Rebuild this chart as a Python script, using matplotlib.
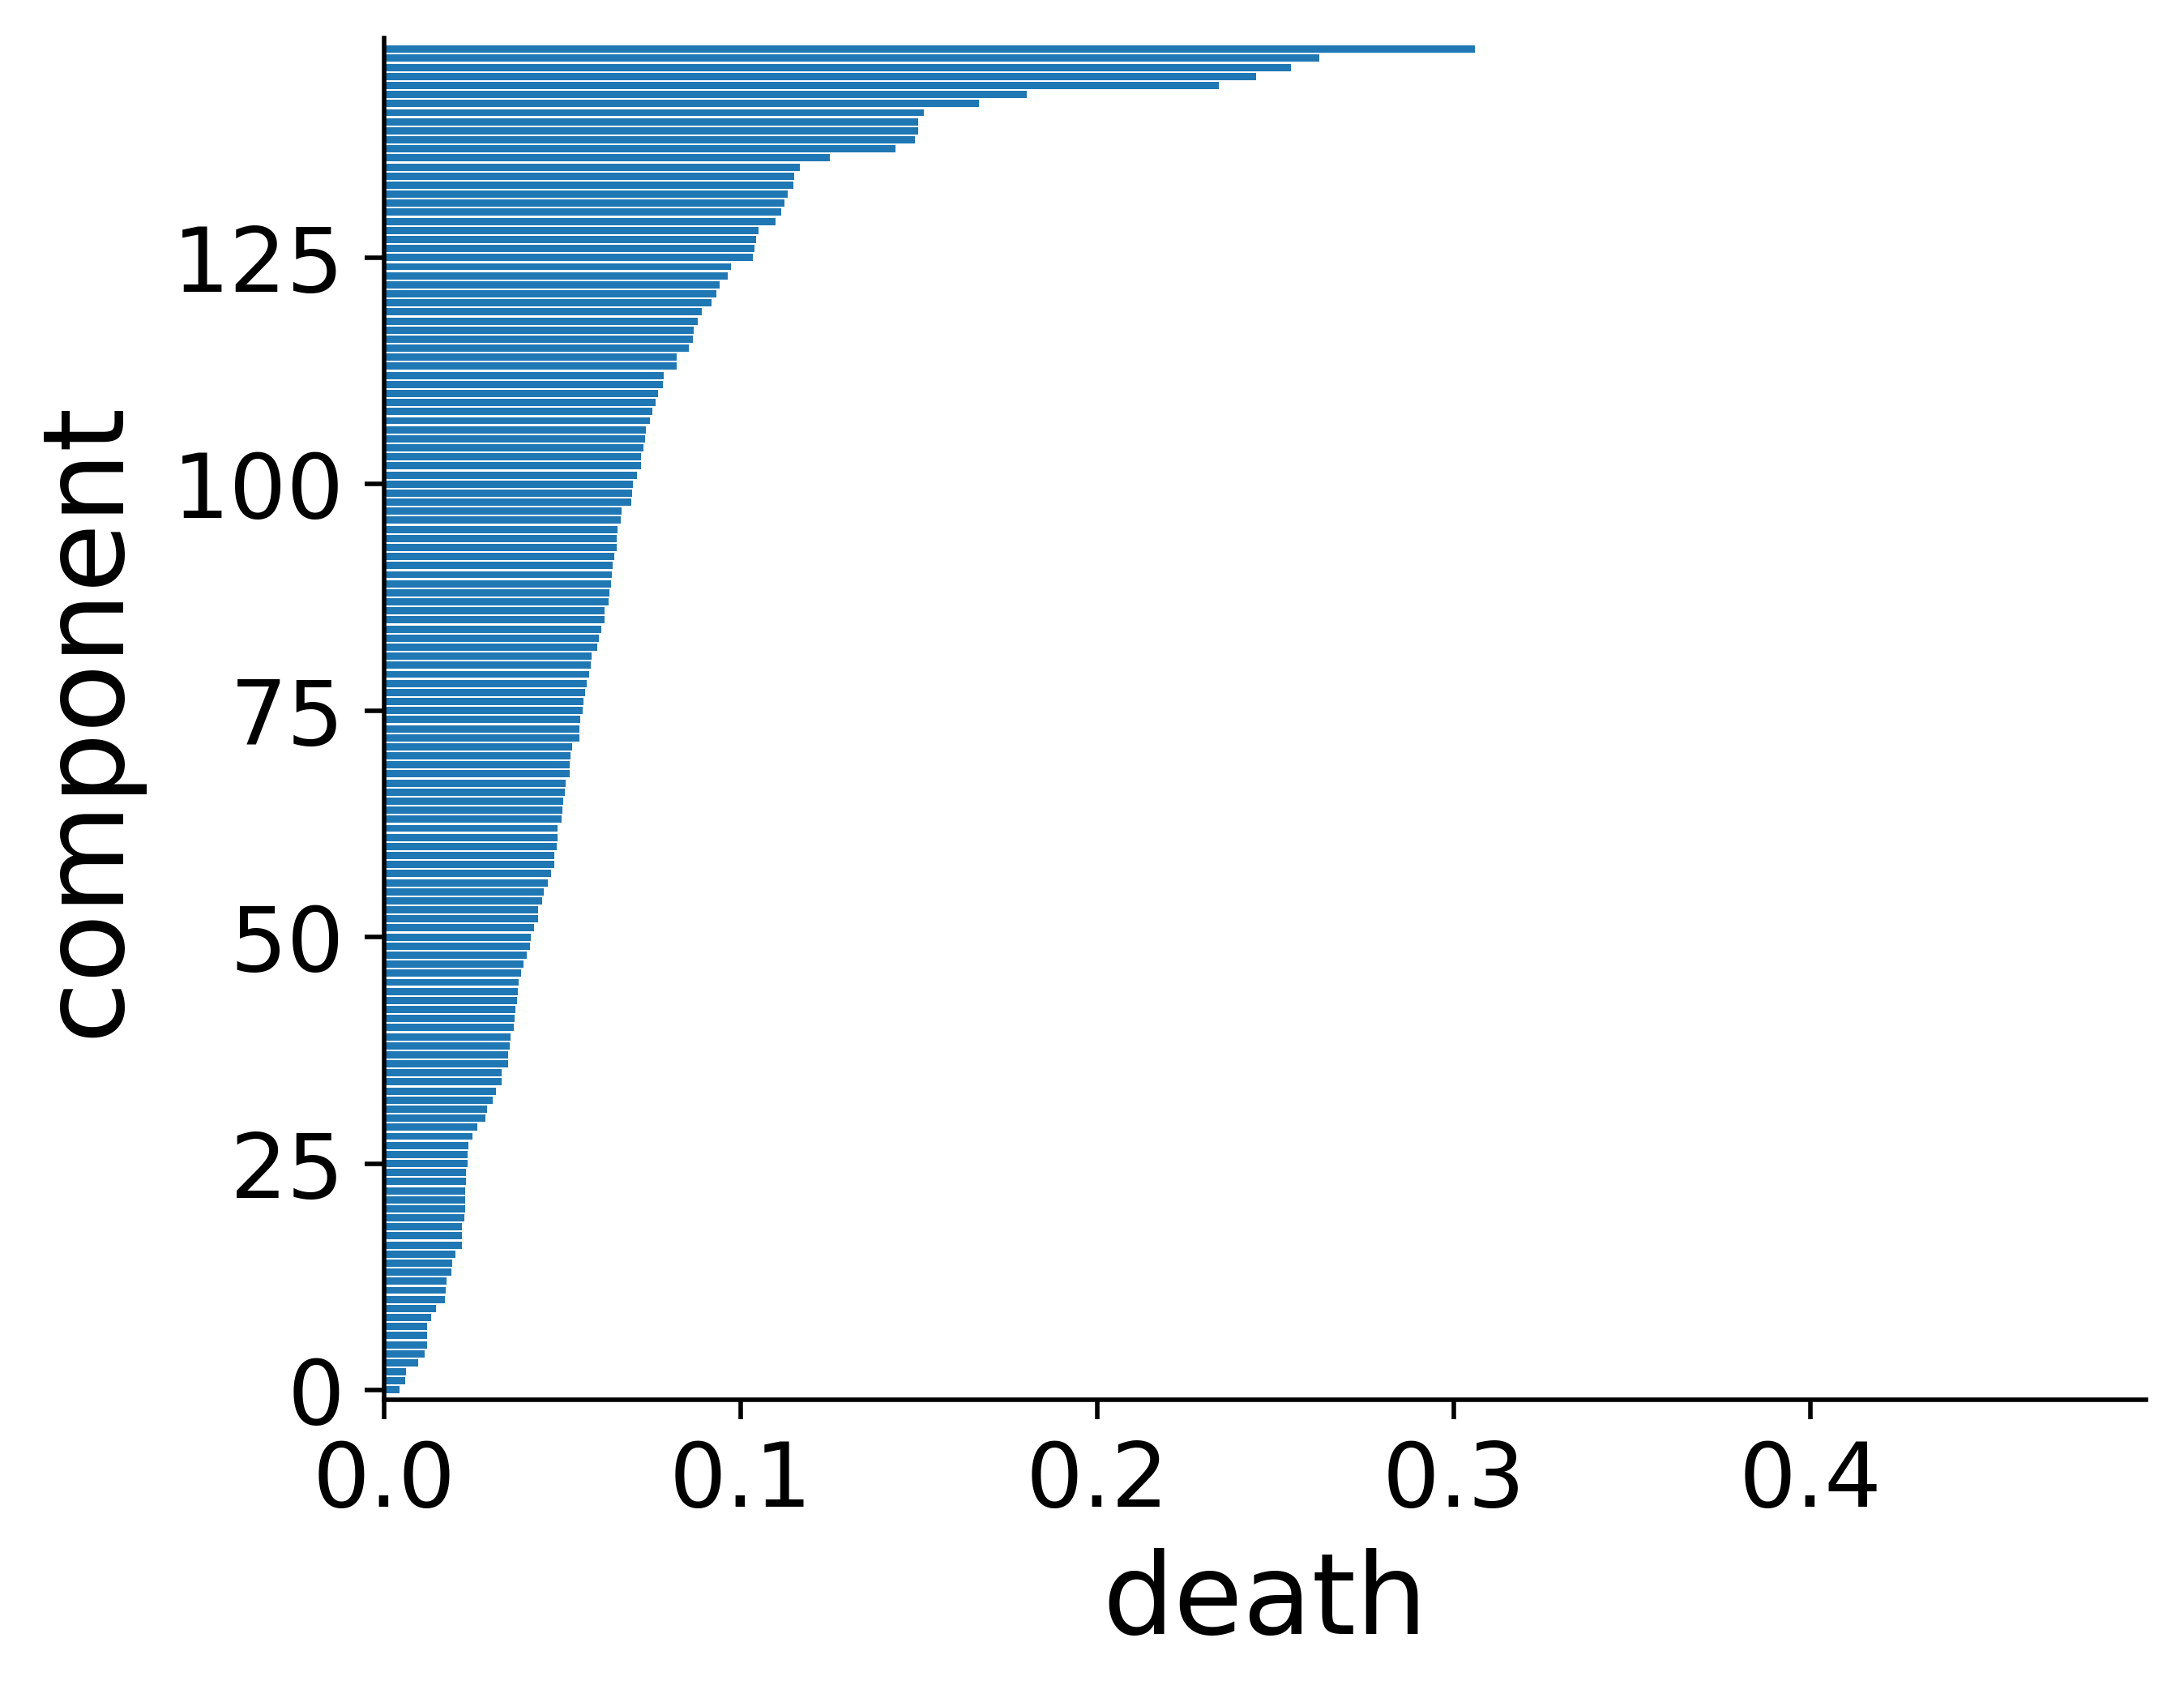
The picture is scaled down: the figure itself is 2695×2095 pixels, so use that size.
import numpy as np
import matplotlib
matplotlib.use("Agg")
import matplotlib.pyplot as plt

# death value per component (sorted ascending)
death = [
    0.0044, 0.0060, 0.0062, 0.0096, 0.0114, 0.0121, 0.0121, 0.0121, 0.0132, 0.0146,
    0.0171, 0.0173, 0.0176, 0.0189, 0.0192, 0.0201, 0.0219, 0.0219, 0.0219, 0.0226,
    0.0228, 0.0228, 0.0228, 0.0230, 0.0230, 0.0235, 0.0235, 0.0237, 0.0248, 0.0262,
    0.0285, 0.0289, 0.0305, 0.0314, 0.0330, 0.0330, 0.0348, 0.0348, 0.0353, 0.0355,
    0.0364, 0.0366, 0.0369, 0.0373, 0.0375, 0.0378, 0.0385, 0.0391, 0.0400, 0.0410,
    0.0412, 0.0421, 0.0432, 0.0432, 0.0444, 0.0448, 0.0460, 0.0469, 0.0478, 0.0478,
    0.0484, 0.0487, 0.0487, 0.0498, 0.0500, 0.0503, 0.0507, 0.0509, 0.0521, 0.0521,
    0.0523, 0.0528, 0.0548, 0.0548, 0.0550, 0.0557, 0.0559, 0.0564, 0.0569, 0.0575,
    0.0580, 0.0582, 0.0598, 0.0603, 0.0609, 0.0618, 0.0618, 0.0630, 0.0632, 0.0637,
    0.0639, 0.0641, 0.0646, 0.0653, 0.0653, 0.0655, 0.0664, 0.0666, 0.0693, 0.0696,
    0.0698, 0.0709, 0.0720, 0.0720, 0.0728, 0.0732, 0.0735, 0.0746, 0.0753, 0.0761,
    0.0768, 0.0782, 0.0784, 0.0820, 0.0820, 0.0854, 0.0867, 0.0868, 0.0880, 0.0891,
    0.0919, 0.0932, 0.0941, 0.0964, 0.0973, 0.1034, 0.1039, 0.1043, 0.1051, 0.1098,
    0.1115, 0.1123, 0.1131, 0.1147, 0.1150, 0.1166, 0.1250, 0.1434, 0.1489, 0.1497,
    0.1499, 0.1514, 0.1668, 0.1802, 0.2341, 0.2446, 0.2544, 0.2623, 0.3059,
]
component = np.arange(len(death))

fig = plt.figure(figsize=(5.39, 4.19), dpi=500)
ax = fig.add_axes([0.1758, 0.1758, 0.8067, 0.8016])

ax.barh(component, death, color="#1f77b4")

ax.set_xlim(0, 0.494)
ax.set_ylim(-1.05, 149.2)
ax.set_xticks([0.0, 0.1, 0.2, 0.3, 0.4])
ax.set_yticks([0, 25, 50, 75, 100, 125])
ax.tick_params(labelsize=16)

ax.spines["top"].set_visible(False)
ax.spines["right"].set_visible(False)

ax.set_xlabel("death", fontsize=20)
ax.set_ylabel("component", fontsize=20, labelpad=5.6)

fig.savefig("out.png", dpi=500)
